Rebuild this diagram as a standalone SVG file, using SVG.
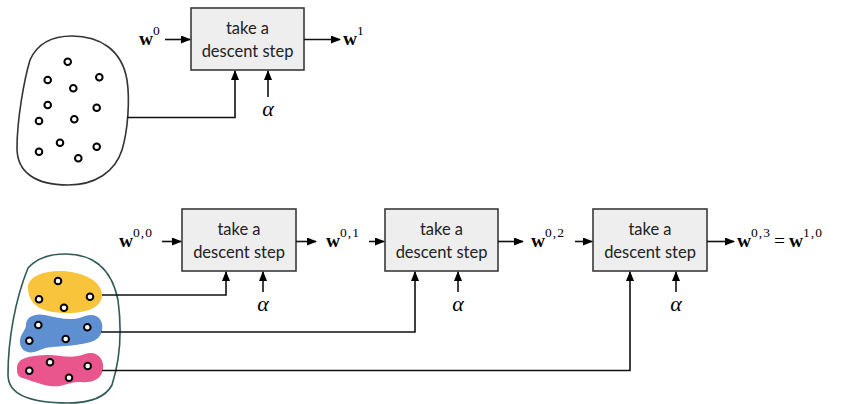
<svg xmlns="http://www.w3.org/2000/svg" width="841" height="404" viewBox="0 0 841 404">
<style>
.box{fill:#eeeeee;stroke:#3a3a3a;stroke-width:1.6}
.bt{font-family:Lato,"Open Sans",sans-serif;font-size:16.5px;fill:#222;text-anchor:middle}
.ln{fill:none;stroke:#111;stroke-width:1.6}
.dot{fill:#fff;stroke:#000;stroke-width:2}
.m{font-family:"Liberation Serif",serif;font-size:19.5px;fill:#000}
.mb{font-weight:bold}
.sup{font-size:13.5px;letter-spacing:1px}
.al{font-family:"Liberation Serif",serif;font-style:italic;font-size:22px;fill:#000;text-anchor:middle}
</style>
<defs>
<marker id="ah" markerWidth="10" markerHeight="8" refX="9" refY="4" orient="auto" markerUnits="userSpaceOnUse">
<path d="M0,0 L10,4 L0,8 Z" fill="#000"/>
</marker>
</defs>

<g id="dataset-top">
<path d="M30,60 C38,42 55,36 72,36 C100,36 122,50 127,80 C130,100 128,130 122,150 C115,172 95,185 68,185 C35,185 17,172 17,148 C17,120 24,80 30,60 Z" fill="#fff" stroke="#333" stroke-width="1.6"/>
<circle class="dot" cx="67.7" cy="61.7" r="3.3"/>
<circle class="dot" cx="47.7" cy="80" r="3.3"/>
<circle class="dot" cx="99.3" cy="77.3" r="3.3"/>
<circle class="dot" cx="73.3" cy="88.3" r="3.3"/>
<circle class="dot" cx="47.7" cy="105" r="3.3"/>
<circle class="dot" cx="96.7" cy="107.7" r="3.3"/>
<circle class="dot" cx="39" cy="121" r="3.3"/>
<circle class="dot" cx="74.3" cy="119.3" r="3.3"/>
<circle class="dot" cx="60" cy="142.7" r="3.3"/>
<circle class="dot" cx="96.7" cy="146.7" r="3.3"/>
<circle class="dot" cx="39" cy="151.7" r="3.3"/>
<circle class="dot" cx="78.3" cy="158.3" r="3.3"/>
</g>

<g id="dataset-bottom">
<path d="M28,268 C38,257 52,254 65,254 C95,254 112,270 118,300 C122,330 120,360 112,385 C105,398 88,403 68,403 C30,403 8,395 8,375 C8,340 15,300 28,268 Z" fill="#fff" stroke="#2f5a56" stroke-width="1.6"/>
<path d="M28,290 C26,276 45,271 60,271 C80,271 102,280 102,295 C102,308 85,313 68,313 C50,313 30,310 28,290 Z" fill="#f8c43c"/>
<path d="M26,325 C26,316 36,313 45,315 C60,318 70,322 85,316 C97,312 104,320 102,330 C100,342 88,343 75,345 C60,347 48,346 40,350 C28,356 19,350 20,340 C21,333 26,330 26,325 Z" fill="#5e8fd1"/>
<path d="M17,368 C17,356 35,356 45,355 C60,354 70,360 85,354 C98,350 104,360 103,368 C102,380 92,383 80,382 C70,381 62,388 50,386 C38,384 30,380 22,378 C17,376 17,372 17,368 Z" fill="#e9568d"/>
<circle class="dot" cx="58" cy="281" r="3.3"/>
<circle class="dot" cx="39" cy="299.3" r="3.3"/>
<circle class="dot" cx="90" cy="296.7" r="3.3"/>
<circle class="dot" cx="64" cy="307.7" r="3.3"/>
<circle class="dot" cx="38.3" cy="325" r="3.3"/>
<circle class="dot" cx="87.3" cy="327.3" r="3.3"/>
<circle class="dot" cx="29.3" cy="340.7" r="3.3"/>
<circle class="dot" cx="65.7" cy="339" r="3.3"/>
<circle class="dot" cx="50" cy="362.3" r="3.3"/>
<circle class="dot" cx="29.3" cy="370.7" r="3.3"/>
<circle class="dot" cx="87.7" cy="366" r="3.3"/>
<circle class="dot" cx="69" cy="377.7" r="3.3"/>
</g>

<g id="step-top">
<rect class="box" x="191" y="8" width="113" height="62"/>
<text class="bt" x="247.5" y="34">take a</text>
<text class="bt" x="247.5" y="57">descent step</text>
</g>
<g id="step-1">
<rect class="box" x="182" y="209" width="114" height="62"/>
<text class="bt" x="239" y="235">take a</text>
<text class="bt" x="239" y="258">descent step</text>
</g>
<g id="step-2">
<rect class="box" x="385" y="209" width="113" height="62"/>
<text class="bt" x="441.5" y="235">take a</text>
<text class="bt" x="441.5" y="258">descent step</text>
</g>
<g id="step-3">
<rect class="box" x="593" y="209" width="114" height="62"/>
<text class="bt" x="650" y="235">take a</text>
<text class="bt" x="650" y="258">descent step</text>
</g>

<g id="labels">
<text class="m" x="139" y="45"><tspan class="mb">w</tspan><tspan class="sup" dy="-10">0</tspan></text>
<text class="m" x="343" y="45"><tspan class="mb">w</tspan><tspan class="sup" dy="-10">1</tspan></text>
<text class="al" x="268" y="116">α</text>
<text class="m" x="119" y="247"><tspan class="mb">w</tspan><tspan class="sup" dy="-10">0,0</tspan></text>
<text class="m" x="326" y="247"><tspan class="mb">w</tspan><tspan class="sup" dy="-10">0,1</tspan></text>
<text class="m" x="531" y="247"><tspan class="mb">w</tspan><tspan class="sup" dy="-10">0,2</tspan></text>
<text class="m" x="737" y="247"><tspan class="mb">w</tspan><tspan class="sup" dy="-10">0,3</tspan><tspan dy="10" dx="3">=</tspan><tspan class="mb" dx="4">w</tspan><tspan class="sup" dy="-10">1,0</tspan></text>
<text class="al" x="263" y="311">α</text>
<text class="al" x="458" y="311">α</text>
<text class="al" x="676" y="311">α</text>
</g>

<g id="connectors">
<line class="ln" x1="165" y1="39.5" x2="190" y2="39.5" marker-end="url(#ah)"/>
<line class="ln" x1="304" y1="39.5" x2="340" y2="39.5" marker-end="url(#ah)"/>
<polyline class="ln" points="127,117.5 235,117.5 235,71" marker-end="url(#ah)"/>
<line class="ln" x1="268" y1="97" x2="268" y2="71" marker-end="url(#ah)"/>

<line class="ln" x1="162" y1="241.5" x2="181" y2="241.5" marker-end="url(#ah)"/>
<line class="ln" x1="296" y1="241.5" x2="316" y2="241.5" marker-end="url(#ah)"/>
<line class="ln" x1="369" y1="241.5" x2="384" y2="241.5" marker-end="url(#ah)"/>
<line class="ln" x1="498" y1="241.5" x2="523" y2="241.5" marker-end="url(#ah)"/>
<line class="ln" x1="575" y1="241.5" x2="592" y2="241.5" marker-end="url(#ah)"/>
<line class="ln" x1="707" y1="241.5" x2="734" y2="241.5" marker-end="url(#ah)"/>

<polyline class="ln" points="102,295 226,295 226,272" marker-end="url(#ah)"/>
<polyline class="ln" points="101,332 415,332 415,272" marker-end="url(#ah)"/>
<polyline class="ln" points="102,370.5 630,370.5 630,272" marker-end="url(#ah)"/>
<line class="ln" x1="263" y1="292" x2="263" y2="272" marker-end="url(#ah)"/>
<line class="ln" x1="458" y1="292" x2="458" y2="272" marker-end="url(#ah)"/>
<line class="ln" x1="676" y1="292" x2="676" y2="272" marker-end="url(#ah)"/>
</g>
</svg>
